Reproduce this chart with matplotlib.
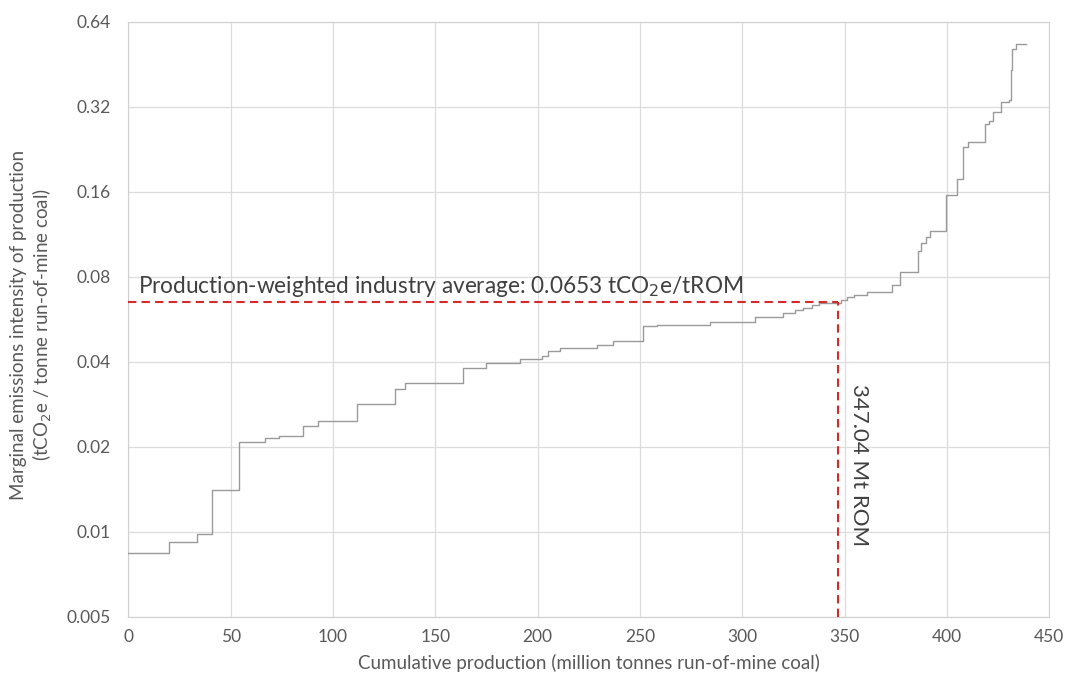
import numpy as np
import matplotlib
matplotlib.use("Agg")
from matplotlib import pyplot as plt

plt.rcParams['font.family'] = ['Lato', 'DejaVu Sans']

# start of each step (cumulative Mt ROM) and its marginal intensity (tCO2e/tROM)
step_start = [0, 20, 33.3, 41, 53.9, 66.7, 73.7, 85.1, 92.6, 111.7,
              130.3, 135.1, 163.7, 174.7, 191.3, 202, 205.2, 211, 228.8, 236.8,
              251.6, 258.2, 284.2, 306.3, 320, 325.8, 329.8, 334, 337.3, 348.5,
              351, 354.5, 360.8, 373, 377.3, 386, 387.4, 389.8, 392, 399.5,
              405, 408, 410.5, 418.6, 420.7, 422.7, 426.3, 430.5, 431.3, 432,
              433.9]
intensity = [0.0084, 0.0092, 0.0098, 0.0141, 0.0208, 0.0216, 0.0219, 0.0238, 0.0248, 0.0284,
             0.0322, 0.0338, 0.0380, 0.0397, 0.0409, 0.0420, 0.0438, 0.0450, 0.0460, 0.0475,
             0.0538, 0.0543, 0.0555, 0.0575, 0.0595, 0.0610, 0.0622, 0.0635, 0.0646, 0.0665,
             0.0680, 0.0692, 0.0705, 0.0750, 0.0835, 0.0985, 0.1058, 0.111, 0.1167, 0.156,
             0.178, 0.23, 0.241, 0.279, 0.286, 0.308, 0.333, 0.34, 0.433, 0.512,
             0.536]
total_production = 438.6

avg_intensity = 0.0653
avg_production = 347.04

y_ticks = [0.005, 0.01, 0.02, 0.04, 0.08, 0.16, 0.32, 0.64]
y_tick_labels = ['0.005', '0.01', '0.02', '0.04', '0.08', '0.16', '0.32', '0.64']
x_ticks = [0, 50, 100, 150, 200, 250, 300, 350, 400, 450]

fig = plt.figure(figsize=(10.68, 6.81), dpi=100)
ax = fig.add_axes([0.1203, 0.094, 0.862, 0.8737])

xs = step_start + [total_production]
ys = intensity + [intensity[-1]]
ax.step(xs, ys, where='post', color='#9a9a9a', lw=1.0, zorder=3)

red = '#d42a2a'
ax.plot([0, avg_production], [avg_intensity, avg_intensity], color=red, lw=1.5,
        dashes=(4, 2.5), zorder=4)
ax.plot([avg_production, avg_production], [0.005, avg_intensity], color=red, lw=1.5,
        dashes=(4, 2.5), zorder=4)

ax.annotate('Production-weighted industry average: 0.0653 tCO$_2$e/tROM',
            xy=(4.6, avg_intensity), xytext=(0, 2), textcoords='offset points',
            ha='left', va='bottom', fontsize=16.3, color='#404040')
ax.text(357, 0.0172, '347.04 Mt ROM', rotation=270, ha='center', va='center',
        fontsize=16, color='#404040')

ax.set_yscale('log', base=2)
ax.set_ylim(0.005, 0.64)
ax.set_xlim(0, 450)
ax.set_yticks(y_ticks)
ax.set_yticklabels(y_tick_labels)
ax.minorticks_off()
ax.set_xticks(x_ticks)

ax.grid(True, color='#dcdcdc', lw=0.9)
ax.set_axisbelow(True)
for s in ax.spines.values():
    s.set_color('#d0d0d0')
ax.tick_params(axis='both', length=0, labelsize=12.5, colors='#595959')
ax.tick_params(axis='y', pad=13)
ax.tick_params(axis='x', pad=9)

ax.set_xlabel('Cumulative production (million tonnes run-of-mine coal)',
              fontsize=13.5, color='#595959', labelpad=6)
fig.text(32 / 1068, 1 - 325 / 681,
         'Marginal emissions intensity of production\n(tCO$_2$e / tonne run-of-mine coal)',
         rotation=90, ha='center', va='center', fontsize=13.5, color='#595959',
         linespacing=1.2)

fig.savefig('out.png', dpi=100)
